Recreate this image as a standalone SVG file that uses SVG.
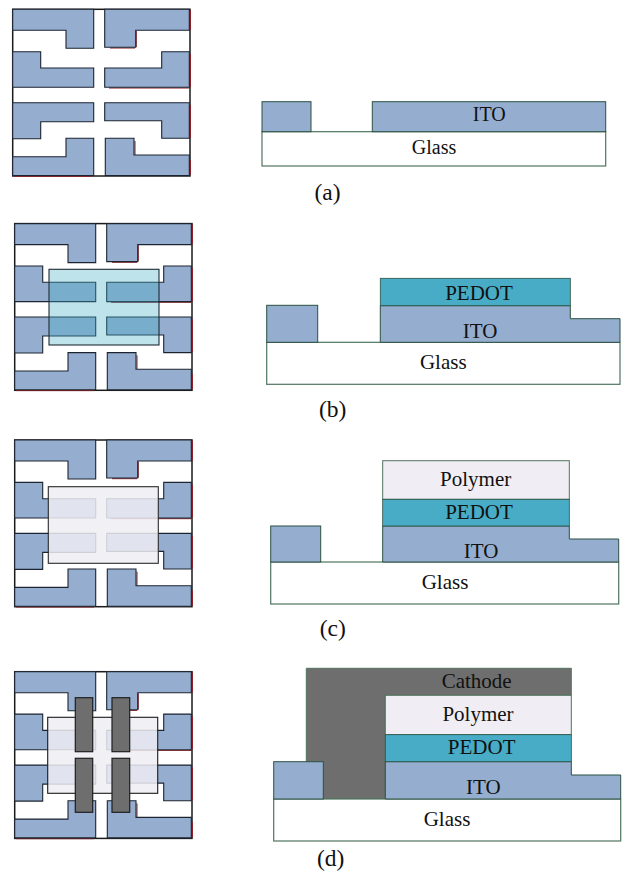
<svg xmlns="http://www.w3.org/2000/svg" width="622" height="874" viewBox="0 0 622 874">
<style>
text{font-family:"Liberation Serif","Times New Roman",serif;fill:#111;text-anchor:middle}
.l{font-size:21px}
.a{font-size:20px}
.cap{font-size:23.5px}
.ito{fill:#95aed0;stroke:#2b5140;stroke-width:1}
.glass{fill:#fff;stroke:#4f7460;stroke-width:1.2}
.ped{fill:#48acc6;stroke:#2b5140;stroke-width:.8}
.pol{fill:#f0eef4;stroke:#4f7460;stroke-width:1}
.cat{fill:#6e6e6e;stroke:#4f7460;stroke-width:1}
.e{fill:#95aed0;stroke:#1c2430;stroke-width:1.1}
.frame{fill:#fff;stroke:#1a1a1a;stroke-width:1.5}
.red{fill:none;stroke:#8f1f24;stroke-width:1}
.gate{fill:#6e6e6e;stroke:#1e1e1e;stroke-width:1.2}
</style>
<defs>
<g id="electrodes">
<rect class="frame" x="12.7" y="9.3" width="177.3" height="166.7"/>
<path class="red" d="M190.5 10V30M190.5 54V87M190.5 105V138M190.5 160V175M109 88H189.500M14 176.300H92M136.300 31V47M110 48H135M135 141V155"/>
<path class="e" d="M12.700 9.300H93.700V48.300H66V30.300H12.700Z"/>
<path class="e" d="M104.700 9.300H189.300V30.300H135.700V47.300H104.700Z"/>
<path class="e" d="M12.700 51.700H40.700V68H93.700V87.300H12.700Z"/>
<path class="e" d="M104.700 68H161.700V51.700H189.300V87.300H104.700Z"/>
<path class="e" d="M12.700 102.700H93.700V121.700H40.700V138.700H12.700Z"/>
<path class="e" d="M104.700 102.700H189.300V138.300H161.700V120.700H104.700Z"/>
<path class="e" d="M12.700 156.700H66V138.300H93.700V175.500H12.700Z"/>
<path class="e" d="M105.300 138.300H134V155H189.300V175.500H105.300Z"/>
</g>
</defs>

<g id="panel-a">
<g id="plan-a"><use href="#electrodes"/></g>
<g id="section-a">
<rect class="glass" x="262" y="131.700" width="343.700" height="34.300"/>
<rect class="ito" x="262" y="101.700" width="49" height="30"/>
<rect class="ito" x="372.300" y="101.700" width="233.400" height="30"/>
<text class="a" x="489.300" y="121">ITO</text>
<text class="a" x="434" y="154">Glass</text>
<text class="cap" x="327.500" y="200">(a)</text>
</g>
</g>

<g id="panel-b">
<g id="plan-b">
<use href="#electrodes" x="2" y="214.300"/>
<rect x="49" y="269.300" width="110" height="75.700" fill="#40adc5" fill-opacity=".34" stroke="#1f2b33" stroke-width="1.100"/>
</g>
<g id="section-b">
<rect class="glass" x="266.700" y="342.300" width="353.300" height="42"/>
<rect class="ito" x="266.700" y="305.300" width="51" height="37"/>
<path class="ito" d="M380.300 305.700H570.300V318.700H620V342.300H380.300Z"/>
<rect class="ped" x="380.300" y="278.300" width="190" height="27.400"/>
<text class="l" x="479" y="299.700">PEDOT</text>
<text class="l" x="480" y="338.300">ITO</text>
<text class="l" x="443.300" y="369.300">Glass</text>
<text class="cap" x="332.700" y="417">(b)</text>
</g>
</g>

<g id="panel-c">
<g id="plan-c">
<use href="#electrodes" x="2" y="430.700"/>
<rect x="48.300" y="486.700" width="110" height="76.600" fill="#efedf3" fill-opacity=".85" stroke="#2a2a2a" stroke-width="1.100"/>
</g>
<g id="section-c">
<rect class="glass" x="270.700" y="562" width="348" height="42"/>
<rect class="ito" x="270.700" y="526" width="50" height="36"/>
<path class="ito" d="M382.700 526H569.300V539H618.700V562H382.700Z"/>
<rect class="pol" x="382.700" y="460.700" width="186.600" height="38.600"/>
<rect class="ped" x="382.700" y="499.300" width="186.600" height="26.700"/>
<text class="l" x="475.700" y="486">Polymer</text>
<text class="l" x="479" y="519">PEDOT</text>
<text class="l" x="481" y="558.300">ITO</text>
<text class="l" x="445" y="589">Glass</text>
<text class="cap" x="332.700" y="636">(c)</text>
</g>
</g>

<g id="panel-d">
<g id="plan-d">
<use href="#electrodes" x="2" y="662.400"/>
<rect x="47.700" y="717.300" width="110" height="76" fill="#efedf3" fill-opacity=".85" stroke="#1a1a1a" stroke-width="1.100"/>
<rect class="gate" x="75.300" y="697.700" width="17.400" height="54"/>
<rect class="gate" x="112" y="697.700" width="17.700" height="54"/>
<rect class="gate" x="75.300" y="758.300" width="17.400" height="54"/>
<rect class="gate" x="112" y="758.300" width="17.700" height="54"/>
</g>
<g id="section-d">
<path class="cat" d="M306.300 668.300H571.300V695.300H385.300V799H306.300Z"/>
<rect class="glass" x="273.700" y="799" width="347" height="42"/>
<rect class="ito" x="273.700" y="761.700" width="49.600" height="37.300"/>
<path class="ito" d="M385.300 761.700H571.300V775H620.700V799H385.300Z"/>
<rect class="pol" x="385.300" y="695.300" width="186" height="39.400"/>
<rect class="ped" x="385.300" y="734.700" width="186" height="27"/>
<text class="l" x="476.700" y="687.700">Cathode</text>
<text class="l" x="478" y="720.700">Polymer</text>
<text class="l" x="481.700" y="754.300">PEDOT</text>
<text class="l" x="483.300" y="794">ITO</text>
<text class="l" x="447" y="826">Glass</text>
<text class="cap" x="330.700" y="866">(d)</text>
</g>
</g>
</svg>
